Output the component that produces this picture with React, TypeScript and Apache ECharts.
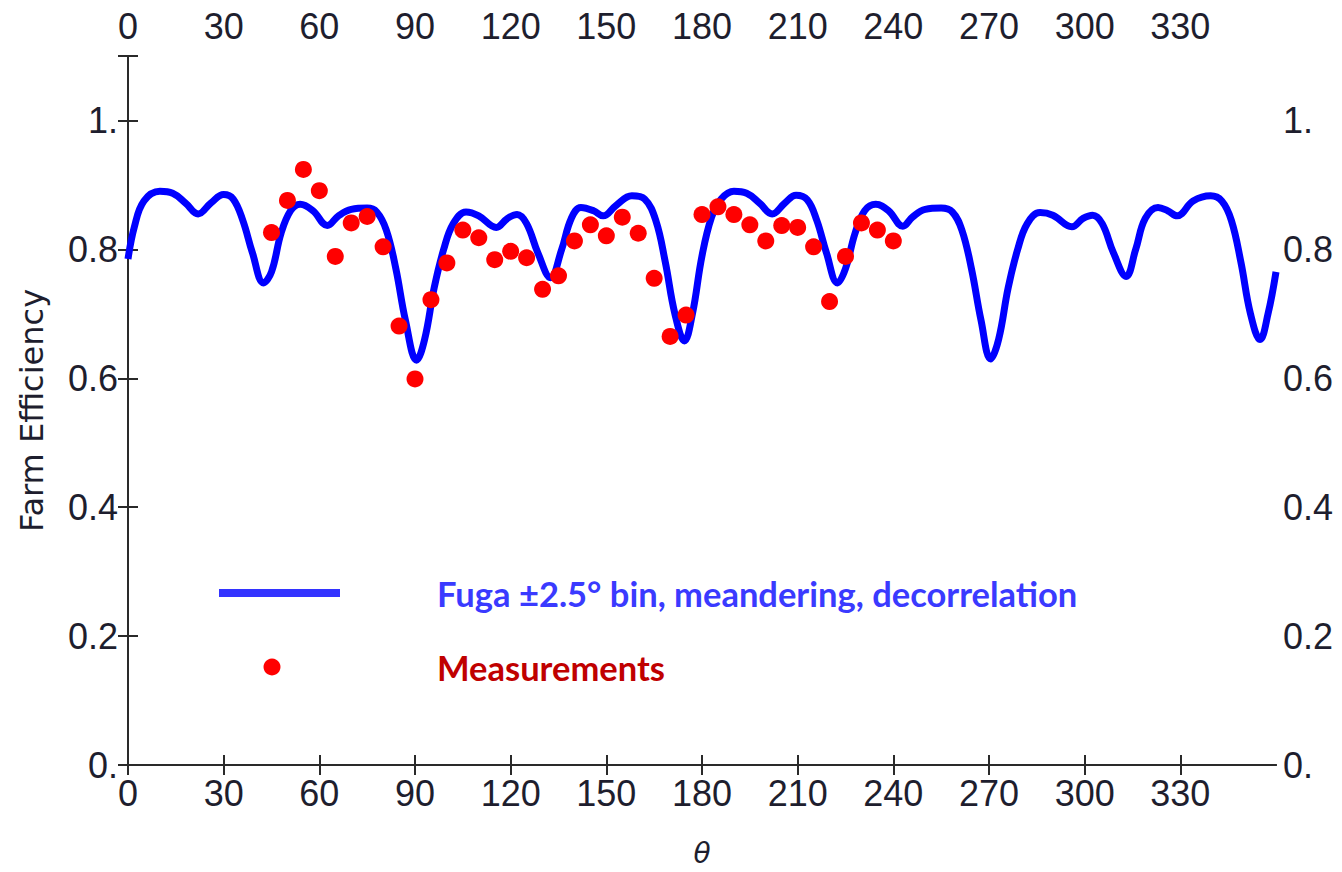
import React, { useEffect, useRef } from 'react';
import * as echarts from 'echarts';

// Tick values of the angle axis
const thetaTicks = [0, 30, 60, 90, 120, 150, 180, 210, 240, 270, 300, 330];

// Fuga model curve
const modelTheta = [
  0, 2, 5, 10, 14, 18, 22, 26, 30, 33, 36, 39, 42.5, 45, 48, 51, 54, 58, 62.5, 66, 70, 75, 78, 81, 84, 87,
  90.5, 93, 96, 99, 102, 106, 110, 115.5, 119, 122, 125, 128.5, 132.5, 136, 139, 142, 146, 149, 153, 158,
  162, 165.5, 168.5, 171.5, 174.5, 177, 180, 183, 186, 190, 194, 198, 202, 206, 209.5, 213, 216, 219,
  222.5, 225, 228, 231, 234.5, 238.5, 243, 246, 250, 255, 258.5, 261.5, 264.5, 267.5, 270.5, 273, 276,
  279, 282, 286, 290, 296, 299.5, 302.5, 305.5, 309, 313, 316, 319, 323, 326, 329, 334, 339.5, 343, 346,
  349, 352, 355, 357.5, 360,
];
const modelEff = [
  0.785, 0.835, 0.875, 0.89, 0.887, 0.872, 0.855, 0.872, 0.885, 0.878, 0.845, 0.795, 0.748, 0.765, 0.825,
  0.86, 0.87, 0.86, 0.837, 0.852, 0.862, 0.864, 0.858, 0.83, 0.77, 0.69, 0.628, 0.66, 0.74, 0.8, 0.84,
  0.858, 0.852, 0.834, 0.848, 0.854, 0.84, 0.795, 0.756, 0.8, 0.848, 0.865, 0.86, 0.852, 0.868, 0.883,
  0.878, 0.845, 0.78, 0.7, 0.658, 0.7, 0.79, 0.85, 0.878, 0.89, 0.887, 0.872, 0.855, 0.872, 0.884, 0.877,
  0.845, 0.795, 0.748, 0.77, 0.825, 0.86, 0.87, 0.86, 0.836, 0.85, 0.862, 0.864, 0.858, 0.83, 0.77, 0.69,
  0.63, 0.66, 0.74, 0.8, 0.84, 0.857, 0.853, 0.835, 0.848, 0.853, 0.84, 0.795, 0.758, 0.8, 0.848, 0.865,
  0.86, 0.852, 0.875, 0.883, 0.875, 0.845, 0.78, 0.7, 0.66, 0.7, 0.765,
];

// Measurements
const measTheta = [
  45, 50, 55, 60, 65, 70, 75, 80, 85, 90, 95, 100, 105, 110, 115, 120, 125, 130, 135, 140, 145, 150, 155,
  160, 165, 170, 175, 180, 185, 190, 195, 200, 205, 210, 215, 220, 225, 230, 235, 240,
];
const measEff = [
  0.826, 0.876, 0.924, 0.891, 0.789, 0.841, 0.851, 0.804, 0.681, 0.599, 0.722, 0.779, 0.83, 0.818, 0.784,
  0.797, 0.787, 0.738, 0.759, 0.813, 0.838, 0.821, 0.85, 0.825, 0.755, 0.665, 0.698, 0.854, 0.866, 0.854,
  0.838, 0.813, 0.837, 0.834, 0.804, 0.719, 0.789, 0.841, 0.83, 0.813,
];

const seriesNames = ['Fuga ±2.5° bin, meandering, decorrelation', 'Measurements'];

const TICK_FONT = 'Liberation Sans';

export default function App() {
  const ref = useRef<HTMLDivElement>(null);

  useEffect(() => {
    const chart = echarts.init(ref.current as HTMLDivElement, null, { renderer: 'svg' });

    const axisLine = { show: true, lineStyle: { color: '#2a2a2a', width: 2 } };
    const axisTick = { show: true, inside: true, length: 10, lineStyle: { color: '#2a2a2a', width: 2 } };
    const xLabel = {
      fontFamily: TICK_FONT,
      fontSize: 36,
      color: '#1e1e2e',
      margin: 10,
      showMaxLabel: false,
      formatter: (v: number) => (thetaTicks.includes(v) ? String(v) : ''),
    };
    const yFmt = (v: number) => {
      if (v > 1.05) return '';
      if (Math.abs(v) < 1e-9) return '0.';
      if (Math.abs(v - 1) < 1e-9) return '1.';
      return v.toFixed(1);
    };

    const option: any = {
      animation: false,
      backgroundColor: '#ffffff',
      grid: { left: 128, right: 66, top: 56, bottom: 106, containLabel: false },
      xAxis: [
        {
          type: 'value',
          position: 'bottom',
          min: 0,
          max: 360,
          interval: 30,
          axisLine,
          axisTick,
          splitLine: { show: false },
          axisLabel: xLabel,
          name: 'θ',
          nameLocation: 'middle',
          nameGap: 74,
          nameTextStyle: {
            fontFamily: 'DejaVu Sans',
            fontStyle: 'italic',
            fontSize: 28,
            color: '#1e1e2e',
          },
        },
        {
          type: 'value',
          position: 'top',
          min: 0,
          max: 360,
          interval: 30,
          axisLine,
          axisTick,
          splitLine: { show: false },
          axisLabel: { ...xLabel, margin: 12 },
        },
      ],
      yAxis: [
        {
          type: 'value',
          position: 'left',
          min: 0,
          max: 1.1,
          interval: 0.2,
          axisLine,
          axisTick,
          splitLine: { show: false },
          axisLabel: {
            fontFamily: TICK_FONT,
            fontSize: 36,
            color: '#1e1e2e',
            margin: 10,
            formatter: yFmt,
          },
          name: 'Farm Efficiency',
          nameLocation: 'middle',
          nameGap: 80,
          nameTextStyle: {
            fontFamily: 'DejaVu Sans',
            fontSize: 32,
            color: '#1e1e2e',
          },
        },
        {
          type: 'value',
          position: 'right',
          min: 0,
          max: 1.1,
          interval: 0.2,
          axisLine,
          axisTick,
          splitLine: { show: false },
          axisLabel: {
            fontFamily: TICK_FONT,
            fontSize: 36,
            color: '#1e1e2e',
            margin: 7,
            formatter: yFmt,
          },
        },
      ],
      series: [
        {
          name: seriesNames[0],
          type: 'line',
          xAxisIndex: 0,
          yAxisIndex: 0,
          data: modelTheta.map((t, i) => [t, modelEff[i]]),
          smooth: 0.4,
          showSymbol: false,
          symbol: 'none',
          lineStyle: { color: '#0000ff', width: 7 },
          z: 2,
        },
        {
          name: seriesNames[1],
          type: 'scatter',
          xAxisIndex: 0,
          yAxisIndex: 0,
          data: measTheta.map((t, i) => [t, measEff[i]]),
          symbol: 'circle',
          symbolSize: 17,
          itemStyle: { color: '#ff0000', opacity: 1 },
          z: 3,
        },
      ],
      graphic: [
        {
          type: 'line',
          shape: { x1: 219, y1: 593, x2: 340, y2: 593 },
          style: { stroke: '#3333ff', lineWidth: 8 },
        },
        {
          type: 'circle',
          shape: { cx: 272, cy: 667, r: 8.5 },
          style: { fill: '#ff0000' },
        },
        {
          type: 'text',
          x: 437,
          y: 593,
          style: {
            text: seriesNames[0],
            fill: '#3a3aff',
            fontFamily: 'Lato',
            fontWeight: 'bold',
            fontSize: 34.5,
            verticalAlign: 'middle',
            align: 'left',
          },
        },
        {
          type: 'text',
          x: 437,
          y: 667,
          style: {
            text: seriesNames[1],
            fill: '#c00000',
            fontFamily: 'Lato',
            fontWeight: 'bold',
            fontSize: 34.5,
            verticalAlign: 'middle',
            align: 'left',
          },
        },
      ],
    };

    chart.setOption(option);
    return () => chart.dispose();
  }, []);

  return (
    <div
      ref={ref}
      style={{ position: 'fixed', left: 0, top: 0, width: 1342, height: 872, background: '#ffffff' }}
    />
  );
}
